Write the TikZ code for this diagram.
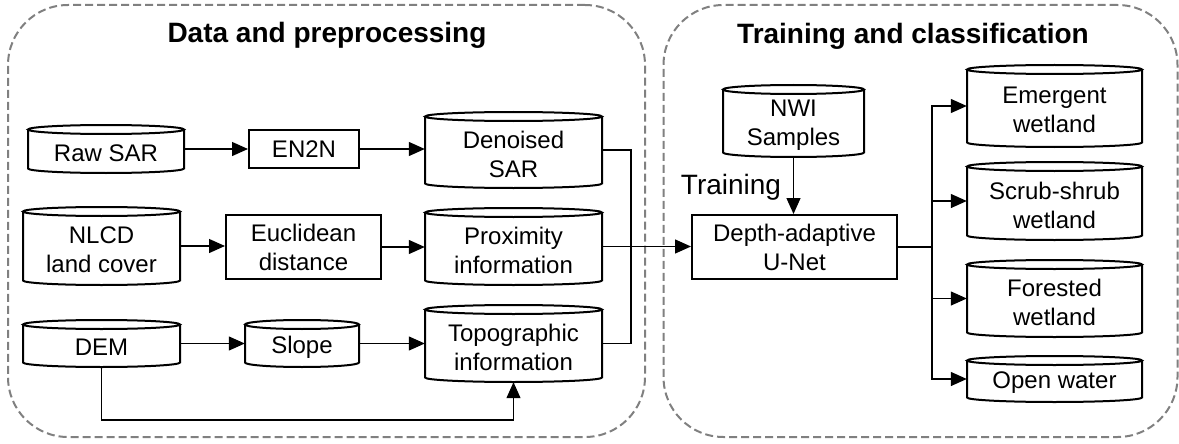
\documentclass[tikz,border=0pt]{standalone}
\usepackage{fontspec}
\setmainfont{Liberation Sans}
\usetikzlibrary{arrows.meta,calc}

\tikzset{
  x=1pt, y=1pt,
  procbox/.style={draw, line width=2pt, inner sep=0pt, align=center,
    font=\fontsize{24}{29}\selectfont},
  dbtext/.style={inner sep=0pt, align=center,
    font=\fontsize{24}{29}\selectfont},
  dbline/.style={line width=2pt},
  group/.style={draw=black!50, dashed, dash pattern=on 8pt off 4pt,
    line width=2pt, rounded corners=60pt, inner sep=0pt},
  grouptitle/.style={font=\fontsize{28}{32}\selectfont\bfseries},
  link/.style={line width=1.3pt},
  flow/.style={line width=1.3pt, -{Triangle[length=16pt,width=14pt]}},
}

% rectangle process step: name, x1, y1, x2, y2, text (y grows downwards)
\newcommand{\stepnode}[6]{%
  \node[procbox, minimum width={#4-#2}, minimum height={#5-#3}]
    (#1) at ({(#2+#4)/2},{-(#3+#5)/2}) {#6};}

% data store drawn as a cylinder: name, x1, y1, x2, y2, text
% the text sits in the body, a little below the middle
\newcommand{\dbry}{4.5}
\newcommand{\dbnode}[6]{%
  \pgfmathsetmacro{\dbrx}{(#4-#2)/2}%
  \pgfmathsetmacro{\dbcx}{(#2+#4)/2}%
  \draw[dbline] (#2,{-(#3+\dbry)}) -- (#2,{-(#5-\dbry)})
    arc[start angle=180,end angle=360,x radius=\dbrx pt,y radius=\dbry pt]
    -- (#4,{-(#3+\dbry)});
  \draw[dbline] (\dbcx,{-(#3+\dbry)}) ellipse[x radius=\dbrx pt,y radius=\dbry pt];
  \node[inner sep=0pt, minimum width={#4-#2}, minimum height={#5-#3},
    label={[dbtext,yshift=-4pt]center:{#6}}]
    (#1) at (\dbcx,{-(#3+#5)/2}) {};}

\begin{document}
\begin{tikzpicture}
\useasboundingbox (0,0) rectangle (1179,-444);

% the two dashed stages
\node[group, minimum width=637, minimum height=432] (prep) at (326.5,-221) {};
\node[group, minimum width=514, minimum height=432] (train) at (920.5,-221) {};
\node[grouptitle] (preptitle) at (327,-35) {Data and preprocessing};
\node[grouptitle] (traintitle) at (913,-36) {Training and classification};

% data and preprocessing
\dbnode{raw}{28}{125}{184}{173}{Raw SAR}
\stepnode{en2n}{249}{130}{359}{168}{EN2N}
\dbnode{den}{425}{112}{602}{188}{Denoised\\SAR}

\dbnode{nlcd}{23}{207}{180}{285}{NLCD\\land cover}
\stepnode{eucl}{226}{215}{381}{279}{Euclidean\\distance}
\dbnode{prox}{425}{208}{602}{285}{Proximity\\information}

\dbnode{dem}{23}{320}{180}{367}{DEM}
\dbnode{slope}{245}{320}{359}{367}{Slope}
\dbnode{topo}{425}{305}{602}{382}{Topographic\\information}

% training and classification
\dbnode{nwi}{723}{85}{864}{157}{NWI\\Samples}
\stepnode{unet}{692}{215}{897}{279}{Depth-adaptive\\U-Net}
\node[font=\fontsize{28}{32}\selectfont] (trainlabel) at (731,-187) {Training};

\dbnode{emerg}{967}{65}{1142}{147}{Emergent\\wetland}
\dbnode{scrub}{967}{162}{1142}{240}{Scrub-shrub\\wetland}
\dbnode{forest}{967}{260}{1142}{337}{Forested\\wetland}
\dbnode{water}{967}{356}{1142}{402}{Open water}

% connectors
\draw[flow] (raw.east) -- (raw.east -| en2n.west);
\draw[flow] (en2n.east) -- (en2n.east -| den.west);
\draw[flow] (nlcd.east) -- (nlcd.east -| eucl.west);
\draw[flow] (eucl.east) -- (eucl.east -| prox.west);
\draw[flow] (dem.east) -- (dem.east -| slope.west);
\draw[flow] (slope.east) -- (slope.east -| topo.west);

\coordinate (low) at (0,-420);
\draw[flow] (dem.south) -- (dem.south |- low) -| (topo.south);

\coordinate (merge) at (631,0);
\draw[link] (den.east) -- (den.east -| merge) -- (topo.east -| merge) -- (topo.east);
\draw[flow] (prox.east) -- (prox.east -| unet.west);

\draw[flow] (nwi.south) -- (nwi.south |- unet.north);

\coordinate (split) at (932,0);
\draw[link] (unet.east) -- (unet.east -| split);
\draw[flow] (unet.east -| split) |- (emerg.west);
\draw[flow] (unet.east -| split) |- (scrub.west);
\draw[flow] (unet.east -| split) |- (forest.west);
\draw[flow] (unet.east -| split) |- (water.west);
\end{tikzpicture}
\end{document}
